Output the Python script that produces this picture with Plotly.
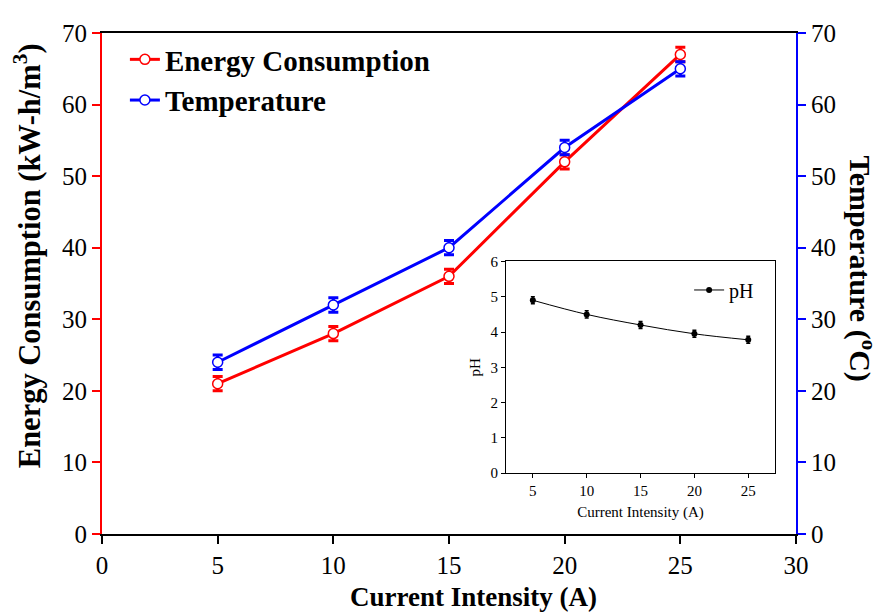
import plotly.graph_objects as go

current = [5, 10, 15, 20, 25]
energy = [21, 28, 36, 52, 67]
energy_err = [1, 1, 1, 1, 1]
temperature = [24, 32, 40, 54, 65]
temp_err = [1, 1, 1, 1, 1]
ph = [4.9, 4.5, 4.2, 3.95, 3.78]
ph_err = [0.1, 0.1, 0.1, 0.1, 0.1]

FONT = "Times New Roman, Liberation Serif, serif"

fig = go.Figure()
fig.add_trace(go.Scatter(
    x=current, y=energy, name="<b>Energy Consumption</b>", mode="lines+markers",
    line=dict(color="#ff0000", width=3),
    marker=dict(symbol="circle", size=10, color="white", line=dict(color="#ff0000", width=1.5)),
    error_y=dict(type="data", array=energy_err, color="#ff0000", thickness=3, width=5),
    xaxis="x", yaxis="y", legend="legend"))
fig.add_trace(go.Scatter(
    x=current, y=temperature, name="<b>Temperature</b>", mode="lines+markers",
    line=dict(color="#0000ff", width=3),
    marker=dict(symbol="circle", size=10, color="white", line=dict(color="#0000ff", width=1.5)),
    error_y=dict(type="data", array=temp_err, color="#0000ff", thickness=3, width=5),
    xaxis="x", yaxis="y2", legend="legend"))
fig.add_trace(go.Scatter(
    x=current, y=ph, name="pH", mode="lines+markers",
    line=dict(color="black", width=1, shape="spline"),
    marker=dict(symbol="circle", size=6, color="black"),
    error_y=dict(type="data", array=ph_err, color="black", thickness=1.5, width=2),
    xaxis="x3", yaxis="y3", legend="legend2"))

fig.update_layout(
    width=887, height=612,
    margin=dict(l=94, r=99, t=15, b=86),
    paper_bgcolor="white", plot_bgcolor="white",
    font=dict(family=FONT, color="black", size=25),
    xaxis=dict(range=[0, 30], dtick=5, showgrid=False, zeroline=False,
               showline=True, linecolor="black", linewidth=2, mirror=True,
               ticks="outside", ticklen=8, tickwidth=2, tickcolor="black",
               tickfont=dict(size=25, family=FONT)),
    yaxis=dict(range=[0, 70], dtick=10, showgrid=False, zeroline=False,
               showline=True, linecolor="#ff0000", linewidth=2,
               ticks="outside", ticklen=8, tickwidth=2, tickcolor="#ff0000",
               tickfont=dict(size=25, family=FONT)),
    yaxis2=dict(range=[0, 70], dtick=10, overlaying="y", side="right", showgrid=False, zeroline=False,
                showline=True, linecolor="#0000ff", linewidth=2,
                ticks="outside", ticklen=8, tickwidth=2, tickcolor="#0000ff",
                tickfont=dict(size=25, family=FONT)),
    xaxis3=dict(domain=[0.582, 0.970], anchor="y3", range=[2.5, 27.5], dtick=5,
                showgrid=False, zeroline=False, showline=True, linecolor="black", linewidth=1, mirror=True,
                ticks="outside", ticklen=4, tickwidth=1, tickcolor="black",
                tickfont=dict(size=15, family=FONT),
                title=dict(text="Current Intensity (A)", font=dict(size=15, family=FONT), standoff=8)),
    yaxis3=dict(domain=[0.1213, 0.544], anchor="x3", range=[0, 6], dtick=1,
                showgrid=False, zeroline=False, showline=True, linecolor="black", linewidth=1, mirror=True,
                ticks="outside", ticklen=4, tickwidth=1, tickcolor="black",
                tickfont=dict(size=15, family=FONT),
                title=dict(text="pH", font=dict(size=15, family=FONT), standoff=6)),
    legend=dict(x=0.033, y=0.998, xanchor="left", yanchor="top", bgcolor="rgba(0,0,0,0)",
                font=dict(size=29, family=FONT), tracegroupgap=0, itemwidth=30),
    legend2=dict(x=0.846, y=0.526, xanchor="left", yanchor="top", bgcolor="rgba(0,0,0,0)",
                 font=dict(size=20, family=FONT), itemwidth=30),
    annotations=[
        dict(text="<b>Current Intensity (A)</b>", xref="paper", yref="paper",
             x=0.536, y=-0.125, xanchor="center", yanchor="middle", showarrow=False,
             font=dict(size=27, family=FONT)),
        dict(text="<b>Energy Consumption (kW-h/m<sup>3</sup>)</b>", xref="paper", yref="paper",
             x=-0.107, y=0.556, xanchor="center", yanchor="middle", textangle=-90, showarrow=False,
             font=dict(size=30.5, family=FONT)),
        dict(text="<b>Temperature (<sup>o</sup>C)</b>", xref="paper", yref="paper",
             x=1.095, y=0.530, xanchor="center", yanchor="middle", textangle=90, showarrow=False,
             font=dict(size=30, family=FONT)),
    ],
)

fig.write_html("out.html")
